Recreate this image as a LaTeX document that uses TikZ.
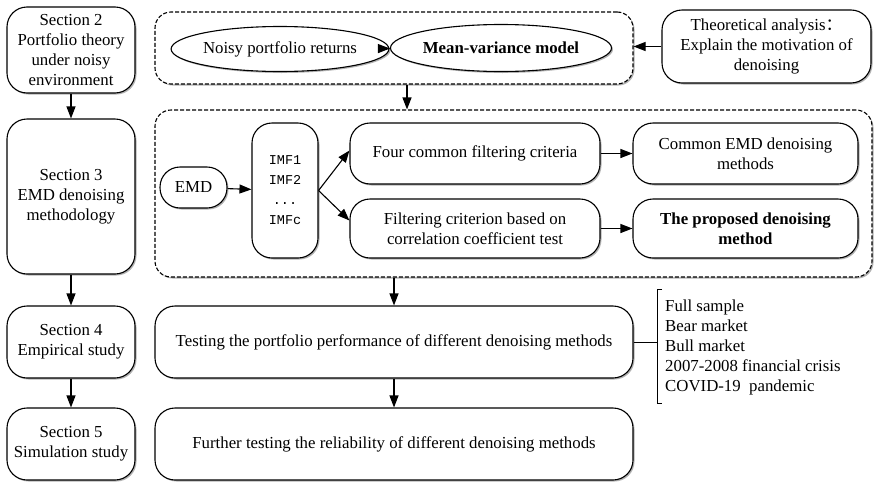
\documentclass[tikz,border=0pt]{standalone}
\usepackage{fontspec}
\setmainfont{Liberation Serif}
\setmonofont{Liberation Mono}
\newfontfamily\cjk{Noto Sans CJK SC}
\usetikzlibrary{arrows.meta, shapes.geometric, shadows}

\tikzset{
    softshadow/.style={drop shadow={shadow xshift=1.5pt, shadow yshift=-1.5pt, opacity=0.3, fill=black}},
    secbox/.style={draw, line width=1.1pt, rounded corners=20pt, fill=white, align=center, inner sep=0pt, softshadow},
    grpbox/.style={draw, dash pattern=on 4pt off 2pt, line width=1.1pt, rounded corners=16pt, fill=white, inner sep=0pt, softshadow},
    ovalbox/.style={draw, ellipse, line width=1.1pt, fill=white, inner sep=0pt, softshadow},
    arr/.style={-{Triangle[length=12pt,width=9pt]}, line width=1.1pt}
}

\begin{document}
\begin{tikzpicture}[x=1pt, y=-1pt, font=\fontsize{16.8}{20}\selectfont]
        \useasboundingbox (0,0) rectangle (874,482);
        % left column
        \node[secbox, minimum width=128pt, minimum height=86pt] (sec2) at (71,50) {Section 2\\Portfolio theory\\under noisy\\environment};
        \node[secbox, minimum width=128pt, minimum height=155pt] (sec3) at (71,196.5) {Section 3\\EMD denoising\\methodology};
        \node[secbox, minimum width=128pt, minimum height=72pt] (sec4) at (71,342) {Section 4\\Empirical study};
        \node[secbox, minimum width=128pt, minimum height=72pt] (sec5) at (71,444) {Section 5\\Simulation study};
        % dashed groups
        \node[grpbox, minimum width=478pt, minimum height=72pt] (grpA) at (394,48) {};
        \node[grpbox, minimum width=717pt, minimum height=167pt] (grpB) at (513.5,193.5) {};
        % top row
        \node[ovalbox, minimum width=194pt, minimum height=45pt] (noisy) at (280,49) {Noisy portfolio returns};
        \node[ovalbox, minimum width=192pt, minimum height=47pt, font=\fontsize{16.8}{20}\selectfont\bfseries] (mv) at (501,48) {Mean-variance model};
        \node[secbox, minimum width=209pt, minimum height=73pt] (theory) at (766.5,46.5) {Theoretical analysis{\cjk ：}\\Explain the motivation of\\denoising};
        % EMD part
        \node[secbox, minimum width=67pt, minimum height=41pt] (emd) at (193.5,187.5) {EMD};
        \node[secbox, minimum width=66pt, minimum height=135pt, font=\fontsize{13.5}{20}\selectfont\ttfamily] (imf) at (285,190.5) {IMF1\\IMF2\\...\\IMFc};
        \node[secbox, minimum width=250pt, minimum height=61pt] (four) at (475,153.5) {Four common filtering criteria};
        \node[secbox, minimum width=250pt, minimum height=59pt] (filt) at (475,228.5) {Filtering criterion based on\\correlation coefficient test};
        \node[secbox, minimum width=225pt, minimum height=61pt] (common) at (745.5,153.5) {Common EMD denoising\\methods};
        \node[secbox, minimum width=225pt, minimum height=59pt, font=\fontsize{16.8}{20}\selectfont\bfseries] (proposed) at (745.5,228.5) {The proposed denoising\\method};
        % lower part
        \node[secbox, minimum width=478pt, minimum height=72pt] (test) at (394,342) {Testing the portfolio performance of different denoising methods};
        \node[secbox, minimum width=478pt, minimum height=72pt] (further) at (394,444) {Further testing the reliability of different denoising methods};
        \coordinate (brT) at (657,289);
        \coordinate (brB) at (657,403);
        \node[anchor=west, align=left, inner sep=0pt] (cases) at (665,347) {Full sample\\Bear market\\Bull market\\2007-2008 financial crisis\\COVID-19~ pandemic};
        % connectors
        \draw[arr] (sec2) -- (sec3);
        \draw[arr] (sec3) -- (sec4);
        \draw[arr] (sec4) -- (sec5);
        \draw[arr] (noisy) -- (mv);
        \draw[arr] (theory.west) -- (theory.west -| grpA.east);
        \draw[arr] ([xshift=13pt]grpA.south) -- ([xshift=13pt]grpA.south |- grpB.north);
        \draw[arr] (emd) -- (imf);
        \draw[arr] (imf.east) -- ([yshift=3pt]four.west);
        \draw[arr] (imf.east) -- ([yshift=8pt]filt.west);
        \draw[arr] (four) -- (common);
        \draw[arr] (filt) -- (proposed);
        \draw[arr] (grpB.south -| test.north) -- (test.north);
        \draw[arr] (test) -- (further);
        \draw[line width=0.7pt] ([xshift=5pt]brT) -- (brT) -- (brB) -- ([xshift=5pt]brB);
        \draw[line width=0.7pt] (test.east) -- (test.east -| brT);
    \end{tikzpicture}
\end{document}
